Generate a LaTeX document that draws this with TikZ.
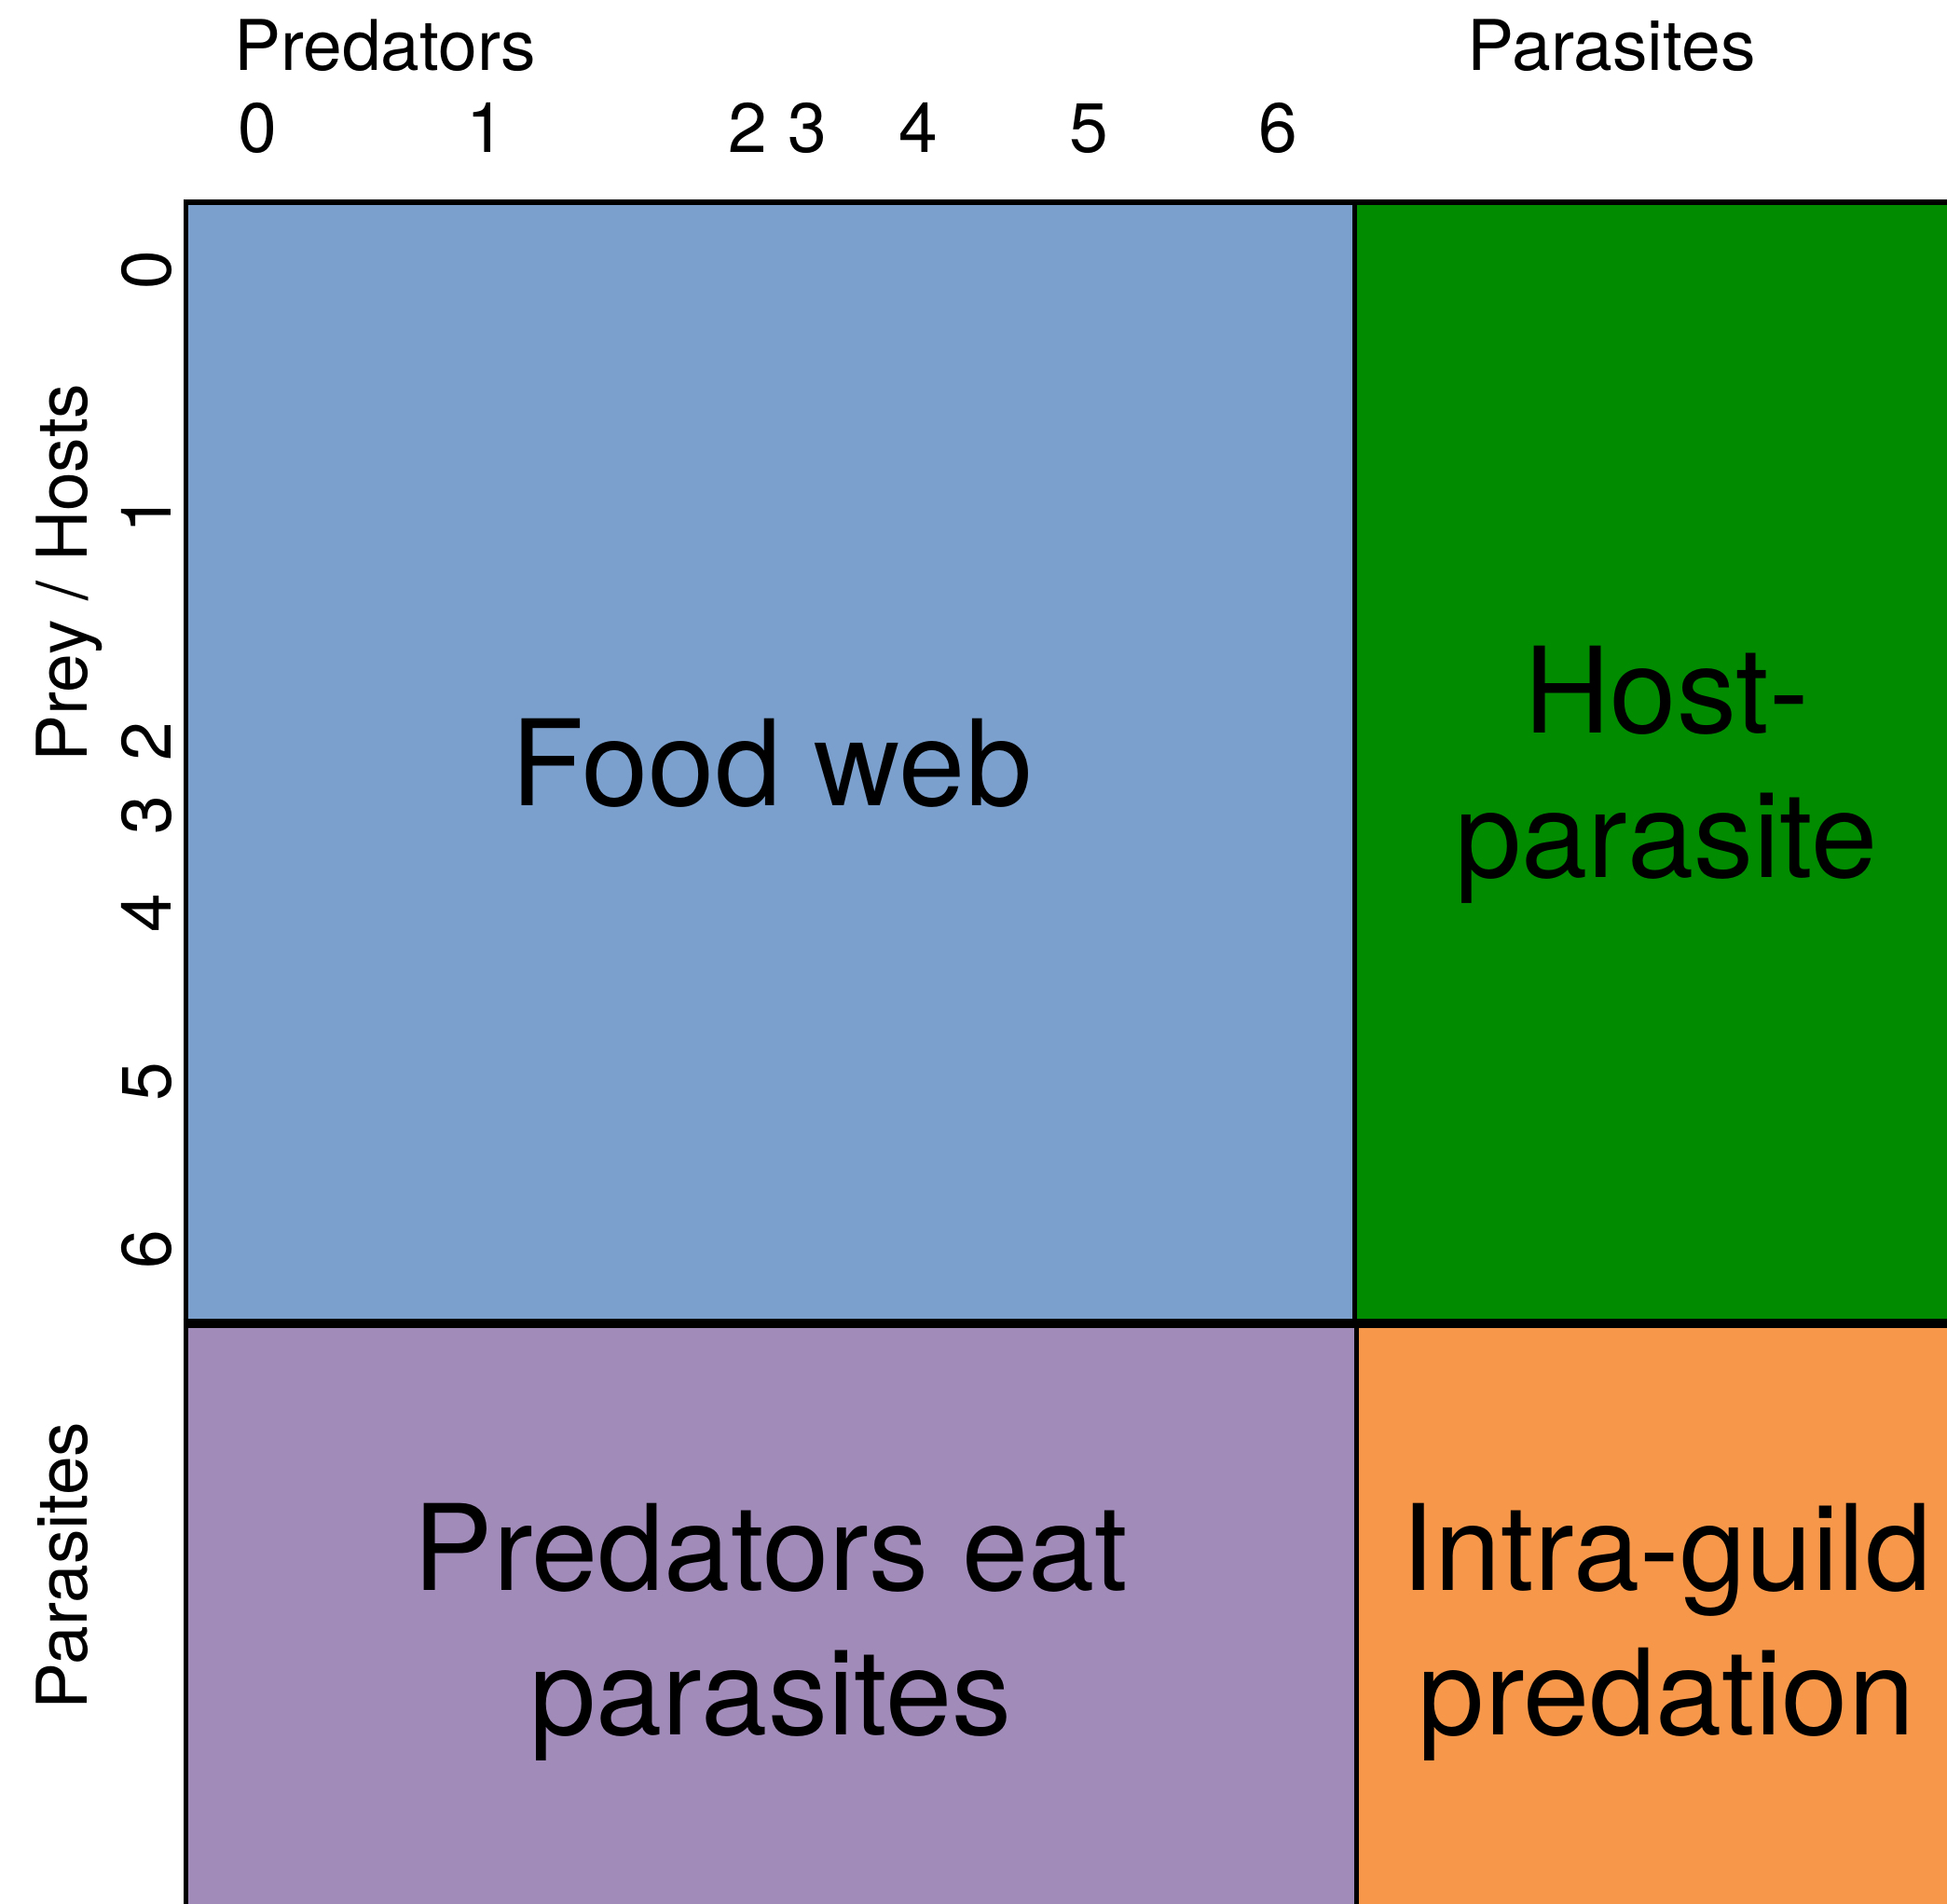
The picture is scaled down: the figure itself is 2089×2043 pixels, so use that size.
\documentclass[tikz,border=0pt]{standalone}
\usepackage{fontspec}
\setmainfont{TeX Gyre Heros}
\definecolor{webblue}{RGB}{123,160,205}
\definecolor{hostgreen}{RGB}{0,139,0}
\definecolor{eatpurple}{RGB}{160,139,185}
\definecolor{igporange}{RGB}{246,151,74}
\begin{document}
\begin{tikzpicture}[x=1bp,y=-1bp,
  axislabel/.style={font=\fontsize{75bp}{90bp}\selectfont, inner sep=0pt, anchor=base},
  ticklabel/.style={font=\fontsize{75bp}{90bp}\selectfont, inner sep=0pt, anchor=base},
  celllabel/.style={font=\fontsize{128bp}{155bp}\selectfont, inner sep=0pt, anchor=base, align=center}]
\useasboundingbox (0,0) rectangle (2089,2043);
\clip (0,0) rectangle (2089,2043);
% the four interaction cells
\fill[webblue]   (199,217)     rectangle (1453.5,1419.5);
\fill[hostgreen] (1453.5,217)  rectangle (2130,1419.5);
\fill[eatpurple] (199,1419.5)  rectangle (1455,2060);
\fill[igporange] (1455,1419.5) rectangle (2130,2060);
% cell borders
\draw[line width=6bp]  (196.5,217)   -- (2130,217);
\draw[line width=10bp] (196.5,1419.5) -- (2130,1419.5);
\draw[line width=5bp]  (199,214)     -- (199,2060);
\draw[line width=5bp]  (1453.5,217)  -- (1453.5,1419.5);
\draw[line width=5bp]  (1455,1419.5) -- (1455,2060);
% column headings and trophic levels
\node[axislabel] (predtop) at (413,75) {Predators};
\node[axislabel] (partop) at (1729,75) {Parasites};
\foreach \n/\x in {0/276.5,1/521.5,2/802,3/866,4/985,5/1168.5,6/1371}
  \node[ticklabel] (tx\n) at (\x,163) {\n};
% row headings and trophic levels
\node[axislabel,rotate=90] (preyleft) at (93,614.5) {Prey / Hosts};
\node[axislabel,rotate=90] (parleft) at (93,1680) {Parasites};
\foreach \n/\y in {0/289.5,1/552,2/796,3/875,4/980,5/1161,6/1341}
  \node[ticklabel,rotate=90] (ty\n) at (183,\y) {\n};
% cell names (a multi-line node sits on the baseline of its last line)
\node[celllabel] (foodweb) at (828,864) {Food web};
\node[celllabel] (hostpar) at (1788,941) {Host-\\parasite};
\node[celllabel] (predeat) at (827,1861) {Predators eat\\parasites};
\node[celllabel] (intraguild) at (1788,1861) {Intra-guild\\predation};
\end{tikzpicture}
\end{document}
